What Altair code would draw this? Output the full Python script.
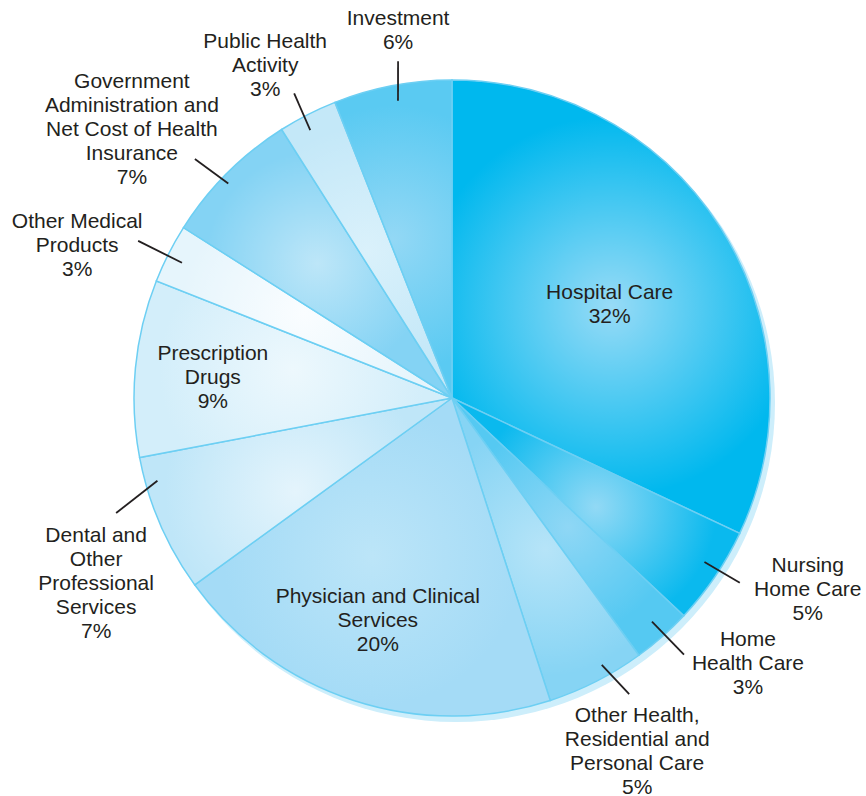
import altair as alt
import pandas as pd

# ---------------- data ----------------
categories = [
    "Hospital Care",
    "Nursing Home Care",
    "Home Health Care",
    "Other Health, Residential and Personal Care",
    "Physician and Clinical Services",
    "Dental and Other Professional Services",
    "Prescription Drugs",
    "Other Medical Products",
    "Government Administration and Net Cost of Health Insurance",
    "Public Health Activity",
    "Investment",
]
shares = [32, 5, 3, 5, 20, 7, 9, 3, 7, 3, 6]
label_text = [
    "Hospital Care",
    "Nursing\nHome Care",
    "Home\nHealth Care",
    "Other Health,\nResidential and\nPersonal Care",
    "Physician and Clinical\nServices",
    "Dental and\nOther\nProfessional\nServices",
    "Prescription\nDrugs",
    "Other Medical\nProducts",
    "Government\nAdministration and\nNet Cost of Health\nInsurance",
    "Public Health\nActivity",
    "Investment",
]

# ---------------- styling / layout ----------------
edge_colors = ["#00b8ee", "#0ab9ee", "#55c9f2", "#86d4f4", "#a4dbf6", "#bfe6f8",
               "#d3eefa", "#e6f5fc", "#84d3f4", "#c4e8f8", "#5acaf2"]
center_colors = ["#98dbf6", "#92d9f5", "#8fd7f5", "#b6e4f8", "#bce5f8", "#e4f4fc",
                 "#edf8fd", "#fafdff", "#bde6f8", "#daf1fb", "#93d8f5"]
inside = [True, False, False, False, True, False, True, False, False, False, False]
# label anchor (inside labels): angle nudge (deg) and radius (px)
in_da = [1.9, 0, 0, 0, 0.4, 0, -0.6, 0, 0, 0, 0]
in_r = [183, 0, 0, 0, 235, 0, 240, 0, 0, 0, 0]
# leader lines (outside labels): start/end angle nudges (deg) and radii (px)
ld_a0 = [0, -1.2, -0.4, -2.3, 0, 7.7, 0, -0.4, -1.2, -0.9, 0.5]
ld_a1 = [0, -1.5, -0.7, -3.9, 0, 4.5, 0, -0.4, -2.1, -0.4, 1.7]
ld_r0 = [0, 301, 300, 306, 0, 306, 0, 302, 310, 303, 302]
ld_r1 = [0, 342, 346, 345, 0, 355, 0, 351, 351, 343, 341]
# text block centre offset from leader end (px)
t_dx = [0, 68, 64, 8, 0, -20, 0, -61, -63, -29, 0]
t_dy = [0, 7, 9.5, 57.5, 0, 71, 0, 5, -29, -27, -30]

CX, CY, R = 452, 398, 318
FONT = "Liberation Sans"
FONT_SIZE = 21
LINE_H = 24
TEXT_COLOR = "#231f20"

df = pd.DataFrame({
    "order": list(range(len(categories))),
    "category": categories,
    "share": shares,
    "label": [f"{t}\n{s}%" for t, s in zip(label_text, shares)],
    "inside": inside,
    "in_da": in_da, "in_r": in_r,
    "ld_a0": ld_a0, "ld_a1": ld_a1, "ld_r0": ld_r0, "ld_r1": ld_r1,
    "t_dx": t_dx, "t_dy": t_dy,
})

base = alt.Chart(df).transform_joinaggregate(
    total="sum(share)"
).transform_window(
    cum="sum(share)", sort=[alt.SortField("order")], frame=[None, 0]
).transform_calculate(
    start="(datum.cum - datum.share) / datum.total",
    end="datum.cum / datum.total",
    mid="(datum.cum - datum.share / 2) / datum.total * 2 * PI",
)

theta_scale = alt.Scale(domain=[0, 1], range=[0, 6.283185307179586], zero=False, nice=False)

# light crescent behind the pie (3D rim highlight)
rim = alt.Chart(pd.DataFrame({"k": [0]})).mark_arc(
    radius=R + 1, fill="#cdeefb", stroke=None
).encode(
    theta=alt.value(0), theta2=alt.value(6.283185307179586),
    x=alt.value(CX + 4), y=alt.value(CY + 5),
)

slices = []
for i in range(len(categories)):
    grad = alt.RadialGradient(
        gradient="radial",
        stops=[alt.GradientStop(offset=0, color=center_colors[i]),
               alt.GradientStop(offset=1, color=edge_colors[i])],
        x1=0.5, y1=0.5, r1=0, x2=0.5, y2=0.5, r2=0.42,
    )
    slices.append(
        base.transform_filter(alt.datum.order == i).mark_arc(
            radius=R, fill=grad, stroke="#6dcff3", strokeWidth=1.5
        ).encode(
            theta=alt.Theta("start:Q", scale=theta_scale),
            theta2="end:Q",
            x=alt.value(CX), y=alt.value(CY),
        )
    )

geo = base.transform_calculate(
    a0="datum.mid + datum.ld_a0 * PI / 180",
    a1="datum.mid + datum.ld_a1 * PI / 180",
    ai="datum.mid + datum.in_da * PI / 180",
    nlines="length(split(datum.label, '\\n'))",
).transform_calculate(
    lx0=f"{CX} + datum.ld_r0 * sin(datum.a0)",
    ly0=f"{CY} - datum.ld_r0 * cos(datum.a0)",
    lx1=f"{CX} + datum.ld_r1 * sin(datum.a1)",
    ly1=f"{CY} - datum.ld_r1 * cos(datum.a1)",
).transform_calculate(
    tx=f"datum.inside ? {CX} + datum.in_r * sin(datum.ai) : datum.lx1 + datum.t_dx",
    tyc=f"datum.inside ? {CY} - datum.in_r * cos(datum.ai) : datum.ly1 + datum.t_dy",
).transform_calculate(
    ty=f"datum.tyc - (datum.nlines - 1) * {LINE_H} / 2",
)

leaders = geo.transform_filter("!datum.inside").mark_rule(
    color=TEXT_COLOR, strokeWidth=1.8
).encode(
    x=alt.X("lx0:Q", scale=None, axis=None),
    y=alt.Y("ly0:Q", scale=None, axis=None),
    x2="lx1:Q", y2="ly1:Q",
)

labels = geo.mark_text(
    font=FONT, fontSize=FONT_SIZE, lineHeight=LINE_H, lineBreak="\n",
    align="center", baseline="middle", color=TEXT_COLOR,
).encode(
    x=alt.X("tx:Q", scale=None, axis=None),
    y=alt.Y("ty:Q", scale=None, axis=None),
    text="label:N",
)

chart = alt.layer(rim, *slices, leaders, labels).properties(
    width=866, height=796,
    autosize=alt.AutoSizeParams(type="none"),
    padding=0,
    background="white",
).configure_view(stroke=None)

chart.save("out.html", embed_options={"renderer": "svg", "actions": False})
